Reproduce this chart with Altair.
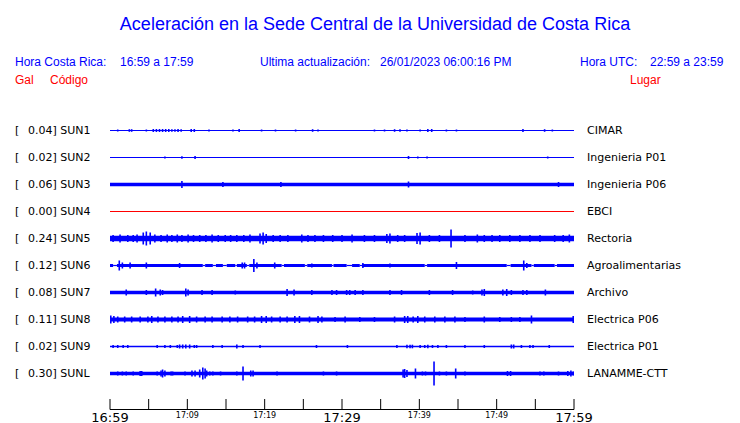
import altair as alt
import pandas as pd

# ---------------- data ----------------
codes = ["SUN1", "SUN2", "SUN3", "SUN4", "SUN5", "SUN6", "SUN7", "SUN8", "SUN9", "SUNL"]
peaks = ["0.04", "0.02", "0.06", "0.00", "0.24", "0.12", "0.08", "0.11", "0.02", "0.30"]
places = ["CIMAR", "Ingenieria P01", "Ingenieria P06", "EBCI", "Rectoria",
          "Agroalimentarias", "Archivo", "Electrica P06", "Electrica P01", "LANAMME-CTT"]

# half thickness of the background noise band of each trace (px)
base_half = [0.5, 0.5, 1.7, 0.5, 2.7, 1.5, 1.7, 2.0, 0.7, 1.7]
# thinner stretches (minutes) of trace SUN6
sun6_gaps = [(0.4, 0.9), (12.0, 12.3), (13.3, 13.7), (14.6, 15.1), (16.2, 16.4), (17.7, 18.0),
             (22.2, 22.5), (25.2, 25.5), (28.7, 28.9), (30.6, 31.3), (32.3, 32.6), (40.7, 41.0),
             (51.3, 51.8), (54.5, 54.8), (57.5, 57.8)]

# bursts: (minute after 16:59, half amplitude in px)
spikes = {
    "SUN1": [(1.0, 1.0), (2.5, 1.3), (2.8, 1.3), (4.7, 1.0), (5.6, 1.5), (6.0, 1.5), (6.4, 1.5),
             (6.8, 1.5), (7.2, 1.5), (7.6, 1.5), (8.0, 1.3), (8.4, 1.3), (8.8, 1.5), (9.2, 1.3),
             (10.5, 1.5), (10.9, 1.5), (12.8, 1.0), (15.9, 1.0), (16.7, 1.5), (19.6, 1.0),
             (21.4, 1.0), (24.0, 1.0), (26.2, 1.3), (26.9, 1.0), (34.2, 1.0), (35.5, 1.0), (36.8, 1.3),
             (37.5, 1.3), (38.4, 1.0), (40.1, 1.0), (41.1, 1.5), (41.6, 1.5), (43.5, 1.0), (44.8, 1.0),
             (53.4, 1.5), (56.2, 1.3), (57.2, 1.0)],
    "SUN2": [(7.1, 1.0), (9.3, 1.3), (11.0, 1.5), (38.6, 1.5), (39.8, 1.0), (41.0, 1.0), (56.6, 1.0)],
    "SUN3": [(9.3, 3.5), (14.6, 2.5), (22.1, 2.5), (38.6, 3), (58.0, 2.5)],
    "SUN4": [],
    "SUN5": [(0.4, 3.5), (1.3, 4), (2.3, 3.5), (3.0, 3.5), (3.5, 4), (4.3, 6), (4.7, 7), (5.2, 6),
             (5.8, 4), (6.6, 3.5), (7.4, 4), (8.0, 3.5), (8.7, 4), (9.3, 3.5), (10.1, 4), (10.8, 3.5),
             (11.6, 3.5), (12.4, 3.5), (13.2, 4), (14.0, 3.5), (14.9, 3.5), (15.6, 3.5), (16.4, 3.5),
             (17.3, 3.5), (18.1, 4), (19.4, 5), (19.8, 6), (20.2, 4.5), (21.1, 3.5), (22.0, 3.5),
             (23.0, 3.5), (24.8, 4), (25.6, 3.5), (26.5, 3.5), (27.6, 3.5), (28.8, 3.5), (30.0, 3.5),
             (31.3, 4), (32.9, 3.5), (34.2, 3.5), (35.8, 4.5), (36.2, 5), (37.2, 3.5), (38.1, 3.5),
             (39.7, 5.5), (40.1, 6), (41.3, 3.5), (42.6, 3.5), (44.1, 9), (45.9, 3.5), (47.5, 4),
             (48.4, 3.5), (49.4, 3.5), (50.4, 3.5), (51.7, 3.5), (53.0, 3.5), (54.3, 3.5), (55.6, 3.5),
             (57.5, 3.5), (58.6, 3.5), (59.4, 4)],
    "SUN6": [(1.2, 5), (1.6, 3), (2.6, 3), (4.7, 3), (9.0, 2.5), (17.1, 3), (17.4, 3), (18.6, 6.5),
             (19.0, 3), (21.3, 3), (26.1, 2), (32.7, 2.5), (36.2, 2), (44.8, 3.5), (53.5, 5), (53.9, 2.5)],
    "SUN7": [(2.1, 3), (4.7, 2.5), (5.9, 4), (6.5, 3), (6.8, 2.5), (9.8, 4), (10.1, 3), (11.9, 2.5),
             (13.2, 2.5), (16.2, 2), (22.9, 3.5), (23.8, 3), (26.1, 2.5), (28.7, 2.5), (29.3, 2.5),
             (30.6, 2.5), (31.0, 2.5), (31.7, 2.5), (32.7, 2.5), (36.2, 2.5), (37.7, 2.5), (41.3, 2.5),
             (44.3, 2.5), (46.9, 2), (48.1, 3), (48.4, 3.5), (50.8, 3), (51.3, 3.5), (51.9, 2.5),
             (53.4, 2.5), (53.9, 2.5), (56.3, 3)],
    "SUN8": [(0.1, 4), (0.5, 3.5), (1.0, 3), (1.9, 3), (2.8, 3), (3.9, 3), (4.9, 3), (5.4, 3.5),
             (6.2, 3), (7.1, 3), (8.0, 3), (8.8, 3), (9.4, 3.5), (10.3, 3.5), (11.2, 3), (12.3, 3),
             (13.2, 3), (14.5, 3), (15.5, 3), (16.5, 3), (17.8, 3), (18.7, 3), (19.6, 3.5), (20.2, 3.5),
             (20.9, 3), (22.0, 3), (22.9, 3), (23.9, 3.5), (24.5, 3.5), (25.8, 3), (26.9, 3.5),
             (27.4, 3), (29.1, 2.5), (30.4, 3), (32.3, 2.5), (34.2, 2.5), (36.8, 3), (38.1, 3.5),
             (38.5, 3.5), (39.2, 3), (39.8, 3.5), (40.7, 3), (42.0, 3), (43.3, 3), (44.6, 3),
             (45.9, 2.5), (48.4, 3), (50.4, 2.5), (51.9, 2.5), (53.0, 2.5), (54.5, 4), (59.9, 3.5)],
    "SUN9": [(0.4, 1.5), (1.0, 1.5), (1.7, 1.5), (2.3, 1.5), (6.1, 1.5), (7.1, 1.5), (7.8, 1.5),
             (8.7, 1.5), (9.0, 2), (9.4, 2), (9.8, 2), (10.3, 2), (10.9, 1.5), (11.2, 1.5), (13.3, 1.5),
             (14.5, 1.5), (16.4, 2), (17.2, 1.5), (19.4, 1.5), (26.7, 1.5), (30.7, 1.5), (37.1, 1.5),
             (38.4, 1.8), (38.8, 1.8), (39.1, 1.8), (40.1, 1.5), (40.7, 1.5), (41.1, 1.8), (41.7, 1.5),
             (42.4, 1.5), (43.5, 1.5), (45.9, 1.5), (48.4, 1.5), (51.9, 2), (52.2, 2), (53.2, 1.5),
             (54.3, 1.5), (54.7, 1.5), (56.8, 1.5)],
    "SUNL": [(1.0, 2), (1.6, 2), (2.1, 2), (3.0, 2), (3.9, 2.5), (4.1, 2.5), (6.1, 2), (6.6, 3),
             (6.8, 4), (7.1, 3), (7.9, 2), (8.1, 2), (9.7, 2), (10.6, 3), (11.0, 3), (11.6, 4),
             (12.0, 6), (12.3, 5), (12.5, 3), (12.9, 2), (13.3, 2), (14.3, 2), (16.4, 2), (17.2, 7),
             (18.2, 3), (18.5, 3), (21.6, 2), (27.6, 2), (29.3, 2), (37.9, 4), (38.1, 4.5), (38.4, 3.5),
             (39.5, 5), (40.4, 2), (40.8, 2), (41.9, 12), (42.6, 2), (43.5, 2), (44.7, 5), (45.9, 2),
             (51.4, 2.5), (51.8, 2.5), (55.6, 2), (56.1, 2), (58.0, 2), (59.2, 2.5), (59.6, 3), (59.9, 2)],
}

tick_minutes = [0, 5, 10, 15, 20, 25, 30, 35, 40, 45, 50, 55, 60]
label_minutes = [0, 10, 20, 30, 40, 50, 60]
label_texts = ["16:59", "17:09", "17:19", "17:29", "17:39", "17:49", "17:59"]
label_major = [1, 0, 0, 1, 0, 0, 1]

# ---------------- tables ----------------
ROW_PX = 27.0
BLUE = "#0000ff"
RED = "#ff0000"

band_rows, spike_rows, label_rows = [], [], []
for i, c in enumerate(codes):
    col = RED if c == "SUN4" else BLUE
    h = base_half[i] / ROW_PX
    segs = [(0.0, 60.0, h)]
    if c == "SUN6":
        segs, t = [], 0.0
        for g0, g1 in sun6_gaps:
            segs.append((t, g0, h))
            segs.append((g0, g1, 0.6 / ROW_PX))
            t = g1
        segs.append((t, 60.0, h))
    for t0, t1, hh in segs:
        band_rows.append(dict(t0=t0, t1=t1, lo=i - hh, hi=i + hh, col=col))
    for t, a in spikes[c]:
        spike_rows.append(dict(t=t, lo=i - a / ROW_PX, hi=i + a / ROW_PX, col=col))
    label_rows.append(dict(row=i, left=f"{peaks[i]}] {c}", place=places[i]))

bands = pd.DataFrame(band_rows)
spk = pd.DataFrame(spike_rows)
labs = pd.DataFrame(label_rows)
ticks = pd.DataFrame(dict(t=tick_minutes))
axis_df = pd.DataFrame(dict(t0=[min(tick_minutes)], t1=[max(tick_minutes)]))
tlabs = pd.DataFrame(dict(t=label_minutes, text=label_texts, major=label_major))

xs = alt.Scale(domain=[0, 60], nice=False, zero=False)
ys = alt.Scale(domain=[-1, 10.5], nice=False, zero=False, reverse=True)


def X(f):
    return alt.X(f, type="quantitative", scale=xs, axis=None)


def Y(f):
    return alt.Y(f, type="quantitative", scale=ys, axis=None)


band_layer = alt.Chart(bands).mark_rect().encode(
    x=X("t0"), x2="t1", y=Y("lo"), y2="hi", color=alt.Color("col:N", scale=None))
spike_layer = alt.Chart(spk).mark_rule(strokeWidth=1.6).encode(
    x=X("t"), y=Y("lo"), y2="hi", color=alt.Color("col:N", scale=None))

LBL = dict(font="DejaVu Sans", fontSize=11, color="black", baseline="middle", align="left")
bracket = alt.Chart(labs).mark_text(**LBL).encode(
    x=alt.value(-95), y=Y("row"), text=alt.value("["))
left = alt.Chart(labs).mark_text(**LBL).encode(x=alt.value(-82), y=Y("row"), text="left:N")
right = alt.Chart(labs).mark_text(**LBL).encode(x=alt.value(477), y=Y("row"), text="place:N")

axis_line = alt.Chart(axis_df).mark_rule(color="black", strokeWidth=1).encode(
    x=X("t0"), x2="t1", y=alt.value(306))
tick_layer = alt.Chart(ticks).mark_rule(color="black", strokeWidth=1).encode(
    x=X("t"), y=alt.value(295.5), y2=alt.value(306))
big_lab = alt.Chart(tlabs).transform_filter("datum.major == 1").mark_text(
    font="DejaVu Sans", fontSize=13, color="black", baseline="alphabetic", align="center").encode(
    x=X("t"), y=alt.value(318), text="text:N")
small_lab = alt.Chart(tlabs).transform_filter("datum.major == 0").mark_text(
    font="DejaVu Sans", fontSize=8, color="black", baseline="alphabetic", align="center").encode(
    x=X("t"), y=alt.value(314.5), text="text:N")


def header(txt, px, py, size, color, align="left"):
    return alt.Chart(axis_df).mark_text(
        font="Liberation Sans", fontSize=size, color=color,
        baseline="alphabetic", align=align).encode(
        x=alt.value(px), y=alt.value(py), text=alt.value(txt))


heads = [
    header("Aceleración en la Sede Central de la Universidad de Costa Rica", 265, -73.5, 18, BLUE, "center"),
    header("Hora Costa Rica:", -95, -38, 12, BLUE),
    header("16:59 a 17:59", 10, -38, 12, BLUE),
    header("Ultima actualización:", 150, -38, 12, BLUE),
    header("26/01/2023 06:00:16 PM", 270, -38, 12, BLUE),
    header("Hora UTC:", 470, -38, 12, BLUE),
    header("22:59 a 23:59", 540, -38, 12, BLUE),
    header("Gal", -95, -20, 12, RED),
    header("Código", -60, -20, 12, RED),
    header("Lugar", 520, -20, 12, RED),
]

chart = alt.layer(
    band_layer, spike_layer, bracket, left, right,
    axis_line, tick_layer, big_lab, small_lab, *heads
).properties(
    width=464, height=310.5,
    autosize=alt.AutoSizeParams(type="none"),
    padding={"left": 102, "top": 95.5, "right": 158, "bottom": 12},
).configure_view(stroke=None)

chart.save("out.html", embed_options={"renderer": "svg", "actions": False})
